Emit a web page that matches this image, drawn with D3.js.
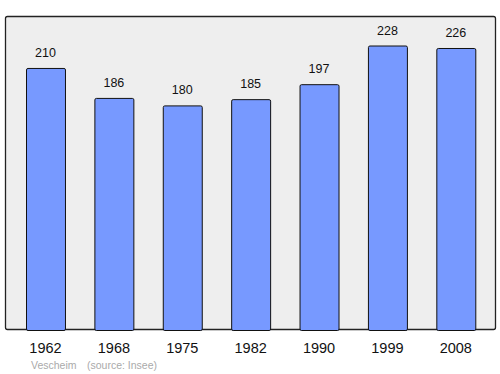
<!DOCTYPE html>
<html>
<head>
<meta charset="utf-8">
<script src="https://cdn.jsdelivr.net/npm/d3@7"></script>
<style>
body { margin: 0; background: #fff; }
text { font-family: "Liberation Sans", Arial, sans-serif; }
</style>
</head>
<body>
<svg id="chart" width="500" height="374"></svg>
<script>
// population per census year
var years = ["1962", "1968", "1975", "1982", "1990", "1999", "2008"];
var population = [210, 186, 180, 185, 197, 228, 226];
var townName = "Vescheim";
var sourceText = "(source: Insee)";

var svg = d3.select("#chart");

// background frame
svg.append("rect")
	.attr("x", 5.5)
	.attr("y", 16.5)
	.attr("width", 490)
	.attr("height", 313)
	.attr("rx", 2)
	.attr("fill", "#eeeeee")
	.attr("stroke", "#222")
	.attr("stroke-width", 1.3);

var x = d3.scaleBand()
	.domain(years)
	.range([11.3, 490])
	.paddingInner(0.43)
	.paddingOuter(0.215);

var y = d3.scaleLinear()
	.domain([0, 228])
	.range([330, 45.5]);

var bars = svg.append("g");
years.forEach(function (yr, i) {
	bars.append("rect")
		.attr("x", x(yr) + 0.5)
		.attr("y", y(population[i]) + 0.5)
		.attr("width", x.bandwidth())
		.attr("height", y(0) - y(population[i]))
		.attr("rx", 1.5)
		.attr("fill", "#7799ff")
		.attr("stroke", "#111")
		.attr("stroke-width", 1);

	bars.append("text")
		.attr("x", x(yr) + x.bandwidth() / 2)
		.attr("y", y(population[i]) - 11)
		.attr("text-anchor", "middle")
		.attr("font-size", "12.5")
		.attr("fill", "#111")
		.text(population[i]);
});

// year axis labels
var xAxis = d3.axisBottom(x).tickSize(0).tickPadding(0);
var gx = svg.append("g")
	.attr("transform", "translate(0,353)")
	.call(xAxis);
gx.select(".domain").remove();
gx.selectAll("text")
	.attr("dy", 0)
	.attr("font-size", "14.5")
	.attr("font-family", "Liberation Sans, Arial, sans-serif")
	.attr("fill", "#111");

// footer
svg.append("text")
	.attr("x", 31)
	.attr("y", 369)
	.attr("font-size", "10.5")
	.attr("fill", "#aaaaaa")
	.text(townName);
svg.append("text")
	.attr("x", 87)
	.attr("y", 369)
	.attr("font-size", "10.5")
	.attr("fill", "#aaaaaa")
	.text(sourceText);
</script>
</body>
</html>
